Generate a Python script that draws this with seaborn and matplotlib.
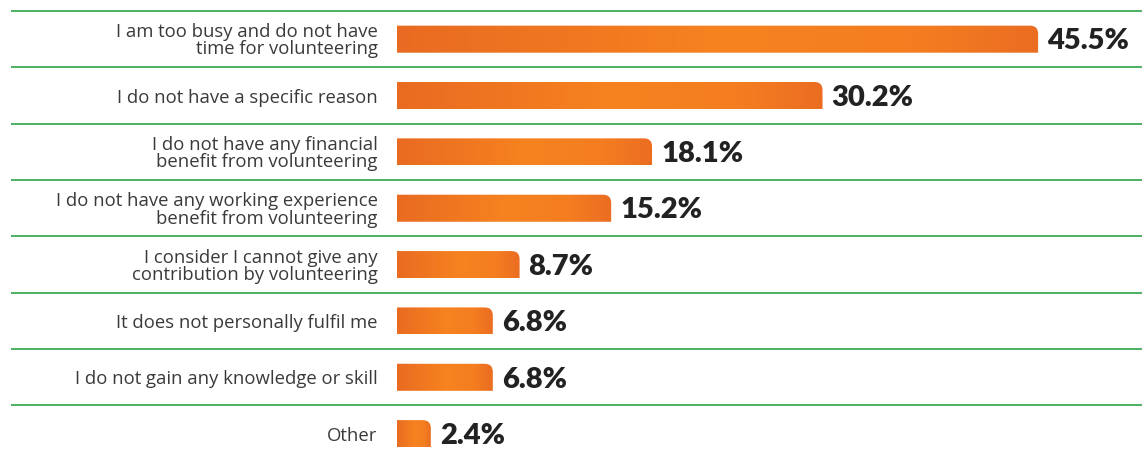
import numpy as np
import pandas as pd
import matplotlib
matplotlib.use("Agg")
import matplotlib.pyplot as plt
import seaborn as sns
from matplotlib.path import Path
from matplotlib.colors import LinearSegmentedColormap
from matplotlib.transforms import blended_transform_factory

reasons = [
    "I am too busy and do not have\ntime for volunteering",
    "I do not have a specific reason",
    "I do not have any financial\nbenefit from volunteering",
    "I do not have any working experience\nbenefit from volunteering",
    "I consider I cannot give any\ncontribution by volunteering",
    "It does not personally fulfil me",
    "I do not gain any knowledge or skill",
    "Other",
]
shares = [45.5, 30.2, 18.1, 15.2, 8.7, 6.8, 6.8, 2.4]

sns.set_theme(style="white")
plt.rcParams["font.family"] = ["Open Sans", "DejaVu Sans"]

W, H = 1142, 459
fig = plt.figure(figsize=(W / 100, H / 100), dpi=100)
left_px, top_px = 397, 11
ax = fig.add_axes([left_px / W, 0, 1 - left_px / W, (H - top_px) / H])

df = pd.DataFrame({"reason": reasons, "share": shares})
sns.barplot(data=df, x="share", y="reason", orient="h", color="#F07A21",
            width=0.48, ax=ax)

px_per_pct = 14.09
xmax = (W - left_px) / px_per_pct
ytop, ybot = -0.5, 7.45
ax.set_xlim(0, xmax)
ax.set_ylim(ybot, ytop)

px_x = (W - left_px) / xmax
px_y = (H - top_px) / (ybot - ytop)

# Orange gradient fill with a rounded top-right corner
cmap = LinearSegmentedColormap.from_list(
    "bar", [(0, "#E96B22"), (0.5, "#F6821F"), (0.8, "#F47E20"),
            (1, "#EB6D22")])
grad = np.linspace(0, 1, 256).reshape(1, -1)
r = 8.0
for patch in ax.patches:
    x0, y0 = patch.get_x(), patch.get_y()
    w, h = patch.get_width(), patch.get_height()
    x1 = x0 + w
    rx, ry = r / px_x, r / px_y
    verts = [(x0, y0 + h), (x1, y0 + h), (x1, y0 + ry), (x1, y0),
             (x1 - rx, y0), (x0, y0), (x0, y0 + h)]
    codes = [Path.MOVETO, Path.LINETO, Path.LINETO, Path.CURVE3,
             Path.CURVE3, Path.LINETO, Path.CLOSEPOLY]
    clip = Path(verts, codes)
    im = ax.imshow(grad, cmap=cmap, extent=(x0, x1, y0 + h, y0),
                   aspect="auto", interpolation="bilinear", zorder=2)
    im.set_clip_path(clip, transform=ax.transData)
    patch.set_visible(False)

ax.set_xlim(0, xmax)
ax.set_ylim(ybot, ytop)

# Value labels
for i, v in enumerate(shares):
    ax.text(v + 9 / px_x, i + 0.04, f"{v}%", va="center", ha="left",
            fontsize=21, fontweight="heavy", color="#222222", zorder=3,
            family=["Lato", "DejaVu Sans"])

# Green separators
trans = blended_transform_factory(fig.transFigure, ax.transData)
seps = np.arange(len(reasons)) - 0.5
ax.hlines(seps, 11 / W, 1, transform=trans, colors="#3DAA56",
          linewidth=1.3, clip_on=False, zorder=1)

ax.set_xlabel("")
ax.set_ylabel("")
ax.set_xticks([])
ax.tick_params(axis="y", length=0, pad=14, labelsize=13.3, labelcolor="#3a3a3a")
for lab in ax.get_yticklabels():
    lab.set_linespacing(0.95)
for s in ax.spines.values():
    s.set_visible(False)

fig.savefig("out.png", dpi=100)
